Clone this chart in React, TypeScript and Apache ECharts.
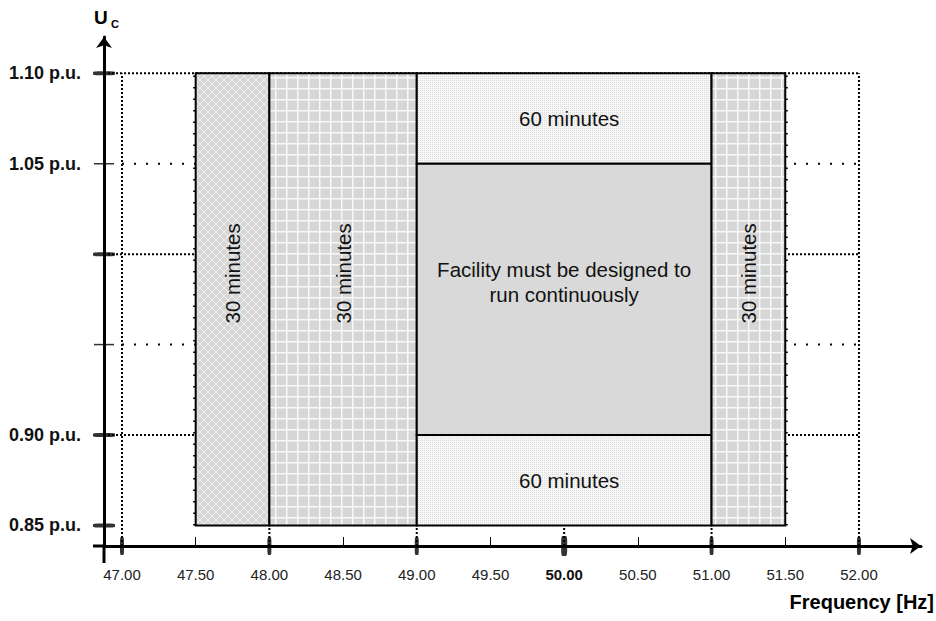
import React, { useEffect, useRef } from 'react';
import * as echarts from 'echarts';

// ---- data ----
const xLabelValues = [47, 47.5, 48, 48.5, 49, 49.5, 50, 50.5, 51, 51.5, 52];
const xMajorTicks = [47, 48, 49, 50, 51, 52];
const xMinorTicks = [47.5, 48.5, 49.5, 50.5, 51.5];
const yLabelValues = [0.85, 0.9, 1.05, 1.1];
const yMajorTicks = [0.85, 0.9, 1.0, 1.1];
const yMinorTicks = [0.95, 1.05];

const zoneX0 = [47.5, 48, 49, 49, 49, 51];
const zoneX1 = [48, 49, 51, 51, 51, 51.5];
const zoneY0 = [0.85, 0.85, 1.05, 0.9, 0.85, 0.85];
const zoneY1 = [1.1, 1.1, 1.1, 1.05, 0.9, 1.1];
const zoneLabels = [
  '30 minutes',
  '30 minutes',
  '60 minutes',
  'Facility must be designed to\nrun continuously',
  '60 minutes',
  '30 minutes',
];
const zoneFill = ['cross', 'grid', 'dots', 'solid', 'dots', 'grid'];
const zoneVertical = [true, true, false, false, false, true];

const denseGuideY = [1.1, 1.0, 0.9];
const sparseGuideY = [1.05, 0.95];
const denseGuideX = [47, 48, 49, 50, 51, 52];
const edgeGuideX = [47.5, 51.5];
const guideLeftX = 47;
const guideRightX = 52;

// axis extent
const XMIN = 46.878;
const XMAX = 52.421;
const YMIN = 0.8386;
const YMAX = 1.1201;

const FONT = 'Liberation Sans, Arial, sans-serif';

function makePattern(kind: string): any {
  const c = document.createElement('canvas');
  let w = 8, h = 8;
  if (kind === 'grid') { w = 11; h = 11; }
  if (kind === 'dots') { w = 2; h = 2; }
  c.width = w; c.height = h;
  const ctx = c.getContext('2d')!;
  if (kind === 'cross') {
    ctx.fillStyle = '#d6d6d6';
    ctx.fillRect(0, 0, w, h);
    ctx.strokeStyle = '#efefef';
    ctx.lineWidth = 1;
    for (const k of [-8, 0, 8]) {
      ctx.beginPath(); ctx.moveTo(k, 0); ctx.lineTo(k + 8, 8); ctx.stroke();
      ctx.beginPath(); ctx.moveTo(k + 8, 0); ctx.lineTo(k, 8); ctx.stroke();
    }
  } else if (kind === 'grid') {
    ctx.fillStyle = '#d6d6d6';
    ctx.fillRect(0, 0, w, h);
    ctx.fillStyle = '#f8f8f8';
    ctx.fillRect(0, 0, 1.5, h);
    ctx.fillRect(0, 0, w, 1.5);
  } else {
    ctx.fillStyle = '#f6f6f6';
    ctx.fillRect(0, 0, w, h);
    ctx.fillStyle = '#dcdcdc';
    ctx.fillRect(0, 0, 1, 1);
  }
  return { image: c.toDataURL(), repeat: 'repeat', imageWidth: w, imageHeight: h };
}

export default function App() {
  const ref = useRef<HTMLDivElement>(null);
  useEffect(() => {
    if (!ref.current) return;
    const chart = echarts.init(ref.current, undefined, { renderer: 'svg' });
    const fills: Record<string, any> = {
      cross: makePattern('cross'),
      grid: makePattern('grid'),
      dots: makePattern('dots'),
      solid: '#d9d9d9',
    };

    const guides: number[][] = [];
    denseGuideY.forEach((y) => guides.push([XMIN, y, guideRightX, y, 0]));
    sparseGuideY.forEach((y) => guides.push([guideLeftX, y, guideRightX, y, 1]));
    denseGuideX.forEach((x) => guides.push([x, YMIN, x, 1.1, 0]));
    edgeGuideX.forEach((x) => guides.push([x, 0.85, x, 1.1, 2]));

    const zones = zoneX0.map((x0, i) => [x0, zoneY0[i], zoneX1[i], zoneY1[i], i]);

    const option: any = {
      animation: false,
      grid: { left: 104, top: 37, right: 15, bottom: 75 },
      xAxis: {
        type: 'value',
        min: XMIN,
        max: XMAX,
        splitLine: { show: false },
        axisLine: {
          show: true,
          onZero: false,
          symbol: ['none', 'arrow'],
          symbolSize: [12, 11],
          lineStyle: { color: '#000', width: 3 },
        },
        axisTick: {
          show: true,
          inside: true,
          length: 9,
          customValues: xMinorTicks,
          lineStyle: { color: '#000', width: 1 },
        },
        axisLabel: {
          customValues: xLabelValues,
          margin: 21,
          fontSize: 15,
          fontFamily: FONT,
          color: '#222',
          formatter: (v: number) => (v === 50 ? '{b|50.00}' : v.toFixed(2)),
          rich: { b: { fontSize: 15, fontWeight: 'bold', fontFamily: FONT, color: '#111' } },
        },
      },
      yAxis: {
        type: 'value',
        min: YMIN,
        max: YMAX,
        splitLine: { show: false },
        axisLine: {
          show: true,
          onZero: false,
          symbol: ['none', 'arrow'],
          symbolSize: [12, 11],
          lineStyle: { color: '#000', width: 3 },
        },
        axisTick: { show: false },
        axisLabel: {
          customValues: yLabelValues,
          margin: 23,
          fontSize: 18,
          fontWeight: 'bold',
          fontFamily: FONT,
          color: '#111',
          formatter: (v: number) => v.toFixed(2) + ' p.u.',
        },
      },
      graphic: [
        { type: 'line', shape: { x1: 93, y1: 546, x2: 105, y2: 546 }, style: { stroke: '#000', lineWidth: 3 }, z: 10 },
        { type: 'line', shape: { x1: 104, y1: 545, x2: 104, y2: 563 }, style: { stroke: '#000', lineWidth: 3 }, z: 10 },
        { type: 'text', left: 94, top: 8, style: { text: 'U', fontSize: 19, fontWeight: 'bold', fontFamily: FONT, fill: '#000' } },
        { type: 'text', left: 111, top: 18, style: { text: 'C', fontSize: 11, fontWeight: 'bold', fontFamily: FONT, fill: '#000' } },
        { type: 'text', right: 2, top: 592, style: { text: 'Frequency [Hz]', fontSize: 20, fontWeight: 'bold', fontFamily: FONT, fill: '#000' } },
      ],
      series: [
        {
          type: 'custom',
          name: 'guides',
          z: 1,
          coordinateSystem: 'cartesian2d',
          clip: false,
          encode: { x: [0, 2], y: [1, 3] },
          data: guides,
          renderItem: (params: any, api: any) => {
            const a = api.coord([api.value(0), api.value(1)]);
            const b = api.coord([api.value(2), api.value(3)]);
            const kind = api.value(4);
            return {
              type: 'line',
              shape: { x1: a[0], y1: a[1], x2: b[0], y2: b[1] },
              style: {
                stroke: '#000',
                lineWidth: kind === 2 ? 5 : 2,
                lineDash: kind === 0 ? [2, 2] : kind === 1 ? [2, 10] : [1.5, 10],
              },
            };
          },
        },
        {
          type: 'custom',
          name: 'zones',
          z: 3,
          coordinateSystem: 'cartesian2d',
          clip: false,
          encode: { x: [0, 2], y: [1, 3] },
          data: zones,
          renderItem: (params: any, api: any) => {
            const i = params.dataIndex;
            const p0 = api.coord([api.value(0), api.value(3)]);
            const p1 = api.coord([api.value(2), api.value(1)]);
            let cx = (p0[0] + p1[0]) / 2;
            let cy = (p0[1] + p1[1]) / 2;
            if (zoneVertical[i]) cy -= 26;
            if (zoneFill[i] === 'solid') cy -= 17;
            if (zoneFill[i] === 'dots') cx += 5;
            return {
              type: 'group',
              children: [
                {
                  type: 'rect',
                  shape: { x: p0[0], y: p0[1], width: p1[0] - p0[0], height: p1[1] - p0[1] },
                  style: { fill: fills[zoneFill[i]], stroke: '#000', lineWidth: 2 },
                },
                {
                  type: 'text',
                  x: cx,
                  y: cy,
                  rotation: zoneVertical[i] ? Math.PI / 2 : 0,
                  style: {
                    text: zoneLabels[i],
                    fontSize: 20.5,
                    fontFamily: FONT,
                    fill: '#111',
                    align: 'center',
                    verticalAlign: 'middle',
                    lineHeight: 25,
                  },
                },
              ],
            };
          },
        },
        {
          type: 'scatter',
          name: 'xMajorTicks',
          z: 6,
          clip: false,
          symbol: 'roundRect',
          symbolSize: (v: number[]) => (v[0] === 50 ? [6, 20] : [4, 18]),
          itemStyle: { color: '#000' },
          silent: true,
          data: xMajorTicks.map((x) => [x, YMIN]),
        },
        {
          type: 'scatter',
          name: 'yMajorTicks',
          z: 6,
          clip: false,
          symbol: 'roundRect',
          symbolSize: [22, 4],
          itemStyle: { color: '#000' },
          silent: true,
          data: yMajorTicks.map((y) => [XMIN, y]),
        },
        {
          type: 'scatter',
          name: 'yMinorTicks',
          z: 6,
          clip: false,
          symbol: 'rect',
          symbolSize: [20, 1.5],
          itemStyle: { color: '#000' },
          silent: true,
          data: yMinorTicks.map((y) => [XMIN, y]),
        },
      ],
    };
    chart.setOption(option);
    return () => chart.dispose();
  }, []);
  return (
    <div
      ref={ref}
      style={{ position: 'absolute', left: 0, top: 0, width: 936, height: 621, background: '#fff' }}
    />
  );
}
